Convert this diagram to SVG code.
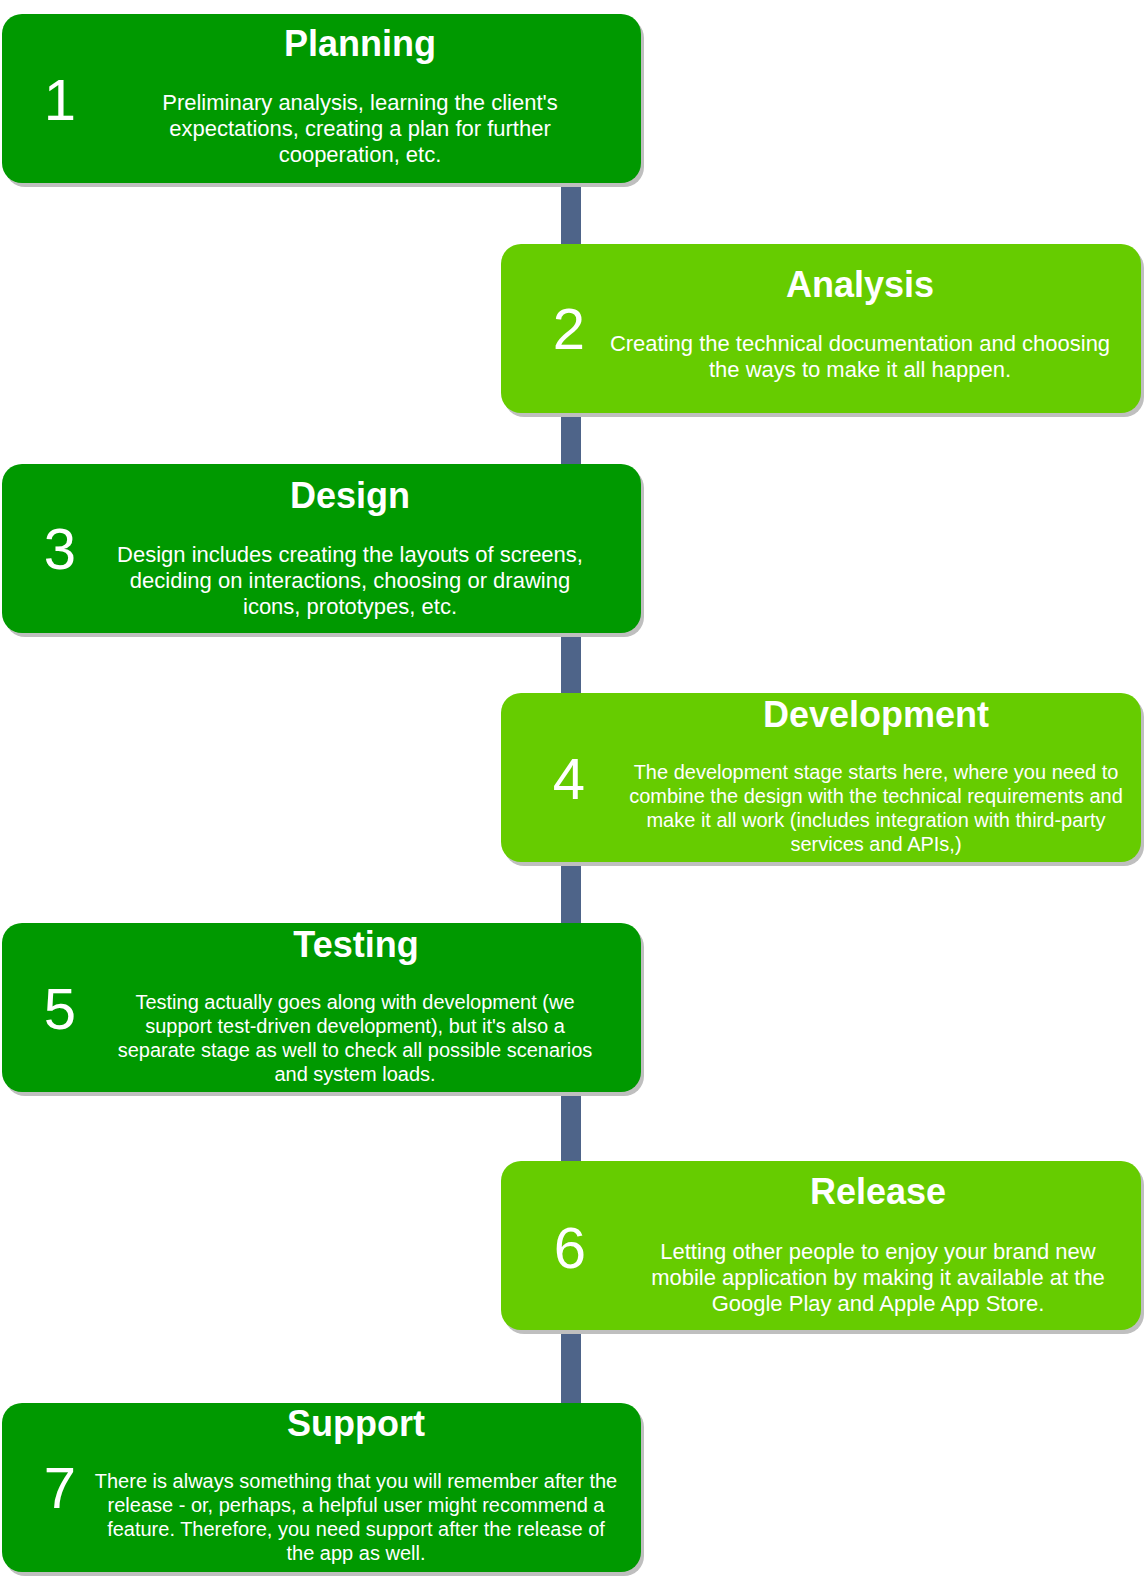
<svg xmlns="http://www.w3.org/2000/svg" width="1146" height="1580" viewBox="0 0 1146 1580">
<style>
.dark{fill:#009900}
.light{fill:#66cc00}
.shadow{fill:#bfbfbf}
.title{font-family:"Liberation Sans",Arial,sans-serif;font-weight:bold;font-size:36px;fill:#ffffff;text-anchor:middle}
.num{font-family:"Liberation Sans",Arial,sans-serif;font-size:58px;fill:#ffffff;text-anchor:middle}
.body{font-family:"Liberation Sans",Arial,sans-serif;font-size:22px;fill:#ffffff;text-anchor:middle}
.small{font-family:"Liberation Sans",Arial,sans-serif;font-size:20px;fill:#ffffff;text-anchor:middle}
.conn{stroke:#4e6489;stroke-width:20;fill:none}
</style>
<rect width="1146" height="1580" fill="#ffffff"/>
<g id="connectors">
<line class="conn" x1="571" y1="183" x2="571" y2="244"/>
<line class="conn" x1="571" y1="413" x2="571" y2="464"/>
<line class="conn" x1="571" y1="633" x2="571" y2="693"/>
<line class="conn" x1="571" y1="862" x2="571" y2="923"/>
<line class="conn" x1="571" y1="1092" x2="571" y2="1161"/>
<line class="conn" x1="571" y1="1330" x2="571" y2="1403"/>
</g>
<g id="node1">
<rect class="shadow" x="5" y="18" width="639" height="169" rx="20"/>
<rect class="dark" x="2" y="14" width="639" height="169" rx="20"/>
<text class="title" x="360" y="56">Planning</text>
<text class="num" x="60" y="120">1</text>
<text class="body" x="360" y="110">Preliminary analysis, learning the client's</text>
<text class="body" x="360" y="136">expectations, creating a plan for further</text>
<text class="body" x="360" y="162">cooperation, etc.</text>
</g>
<g id="node2">
<rect class="shadow" x="504" y="248" width="640" height="169" rx="20"/>
<rect class="light" x="501" y="244" width="640" height="169" rx="20"/>
<text class="title" x="860" y="297">Analysis</text>
<text class="num" x="569" y="349">2</text>
<text class="body" x="860" y="351">Creating the technical documentation and choosing</text>
<text class="body" x="860" y="377">the ways to make it all happen.</text>
</g>
<g id="node3">
<rect class="shadow" x="5" y="468" width="639" height="169" rx="20"/>
<rect class="dark" x="2" y="464" width="639" height="169" rx="20"/>
<text class="title" x="350" y="508">Design</text>
<text class="num" x="60" y="569">3</text>
<text class="body" x="350" y="562">Design includes creating the layouts of screens,</text>
<text class="body" x="350" y="588">deciding on interactions, choosing or drawing</text>
<text class="body" x="350" y="614">icons, prototypes, etc.</text>
</g>
<g id="node4">
<rect class="shadow" x="504" y="697" width="640" height="169" rx="20"/>
<rect class="light" x="501" y="693" width="640" height="169" rx="20"/>
<text class="title" x="876" y="727">Development</text>
<text class="num" x="569" y="799">4</text>
<text class="small" x="876" y="779">The development stage starts here, where you need to</text>
<text class="small" x="876" y="803">combine the design with the technical requirements and</text>
<text class="small" x="876" y="827">make it all work (includes integration with third-party</text>
<text class="small" x="876" y="851">services and APIs,)</text>
</g>
<g id="node5">
<rect class="shadow" x="5" y="927" width="639" height="169" rx="20"/>
<rect class="dark" x="2" y="923" width="639" height="169" rx="20"/>
<text class="title" x="356" y="957">Testing</text>
<text class="num" x="60" y="1029">5</text>
<text class="small" x="355" y="1009">Testing actually goes along with development (we</text>
<text class="small" x="355" y="1033">support test-driven development), but it's also a</text>
<text class="small" x="355" y="1057">separate stage as well to check all possible scenarios</text>
<text class="small" x="355" y="1081">and system loads.</text>
</g>
<g id="node6">
<rect class="shadow" x="504" y="1165" width="640" height="169" rx="20"/>
<rect class="light" x="501" y="1161" width="640" height="169" rx="20"/>
<text class="title" x="878" y="1204">Release</text>
<text class="num" x="570" y="1268">6</text>
<text class="body" x="878" y="1259">Letting other people to enjoy your brand new</text>
<text class="body" x="878" y="1285">mobile application by making it available at the</text>
<text class="body" x="878" y="1311">Google Play and Apple App Store.</text>
</g>
<g id="node7">
<rect class="shadow" x="5" y="1407" width="639" height="169" rx="20"/>
<rect class="dark" x="2" y="1403" width="639" height="169" rx="20"/>
<text class="title" x="356" y="1436">Support</text>
<text class="num" x="60" y="1508">7</text>
<text class="small" x="356" y="1488">There is always something that you will remember after the</text>
<text class="small" x="356" y="1512">release - or, perhaps, a helpful user might recommend a</text>
<text class="small" x="356" y="1536">feature. Therefore, you need support after the release of</text>
<text class="small" x="356" y="1560">the app as well.</text>
</g>
</svg>
